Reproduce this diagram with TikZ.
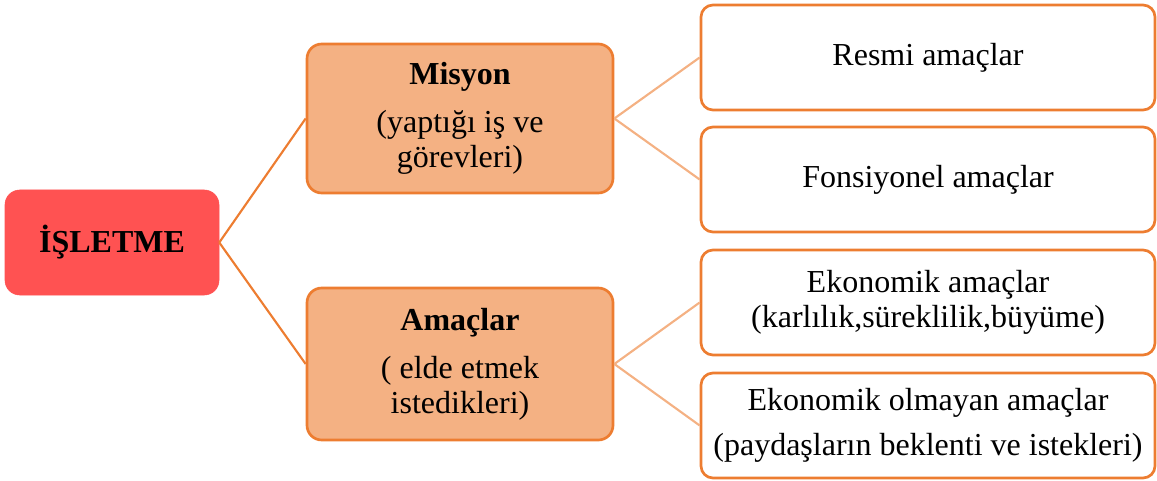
\documentclass[tikz,border=0pt]{standalone}
\usepackage{fontspec}
\setmainfont{Liberation Serif}
\definecolor{koyu}{HTML}{ED7D31}
\definecolor{acik}{HTML}{F4B183}
\definecolor{kirmizi}{HTML}{FF5252}
\newcommand{\yazi}{\fontsize{24}{26}\selectfont}
\tikzset{ana/.style={rounded corners=11pt, fill=kirmizi, draw=kirmizi, minimum width=160.5pt, minimum height=78.75pt, align=center, font=\yazi\bfseries}}
\tikzset{orta/.style={rounded corners=11pt, fill=acik, draw=koyu, line width=2pt, minimum width=229.5pt, align=center}}
\tikzset{yan/.style={rounded corners=9pt, fill=white, draw=koyu, line width=2pt, minimum width=340.5pt, minimum height=78.75pt, align=center}}
\tikzset{bag/.style={line width=1.6pt, koyu}}
\tikzset{bagacik/.style={line width=1.6pt, acik}}

\begin{document}
\begin{tikzpicture}[x=0.75pt, y=-0.75pt, font=\yazi]
		\useasboundingbox (0,0) rectangle (1157,481);

		% Nodes
		\node[ana] (isletme) at (112,242.5) {İŞLETME};
		\node[orta, minimum height=111.75pt] (misyon) at (460,118.5) {\textbf{Misyon}\\[10pt](yaptığı iş ve\\görevleri)};
		\node[orta, minimum height=114pt] (amaclar) at (460,364) {\textbf{Amaçlar}\\[10pt]( elde etmek\\istedikleri)};
		\node[yan] (resmi) at (928,57.5) {Resmi amaçlar};
		\node[yan] (fonsiyonel) at (928,179.5) {Fonsiyonel amaçlar};
		\node[yan] (ekonomik) at (928,302.5) {Ekonomik amaçlar\\(karlılık,süreklilik,büyüme)};
		\node[yan] (olmayan) at (928,425.5) {Ekonomik olmayan amaçlar\\[8pt](paydaşların beklenti ve istekleri)};

		% Connectors
		\draw[bag] (isletme.east) -- (misyon.west);
		\draw[bag] (isletme.east) -- (amaclar.west);
		\draw[bagacik] (misyon.east) -- (resmi.west);
		\draw[bagacik] (misyon.east) -- (fonsiyonel.west);
		\draw[bagacik] (amaclar.east) -- (ekonomik.west);
		\draw[bagacik] (amaclar.east) -- (olmayan.west);
\end{tikzpicture}
\end{document}
